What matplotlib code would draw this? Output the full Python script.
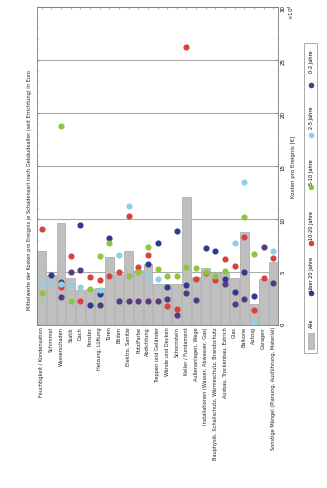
import numpy as np
import matplotlib
matplotlib.use("Agg")
import matplotlib.pyplot as plt
from matplotlib.patches import Rectangle
from matplotlib.lines import Line2D
from matplotlib.ticker import MultipleLocator

# categories (original chart is a horizontal bar chart, shown rotated by 90 degrees)
categories = [
    "Feuchtigkeit / Kondensation", "Schimmel", "Wasserschaden", "Statik", "Dach",
    "Fenster", "Heizung, Lüftung", "Türen", "Böden", "Elektro, Sanitär",
    "Putz/Farbe", "Abdichtung", "Treppen und Geländer", "Wände und Decken",
    "Schornstein", "Keller / Fundament", "Außenanlagen, Wege",
    "Installationen (Wasser, Abwasser, Gas)", "Bauphysik, Schallschutz, Wärmeschutz, Brandschutz",
    "Ausbau, Trockenbau, Estrich", "Glas", "Balkone", "Aufzug", "Garagen",
    "Sonstige Mängel (Planung, Ausführung, Material)",
]

# mean cost per event, all buildings (x 10^4)
alle = [7.0, 4.75, 9.6, 4.4, 3.3, 3.4, 3.5, 6.4, 4.8, 7.0, 5.2, 5.8, 3.9, 3.9,
        3.9, 12.1, 4.5, 5.4, 5.0, 5.0, 4.4, 8.75, 2.0, 4.3, 5.9]

nan = np.nan
ueber20 = [nan, 4.7, 4.1, nan, 9.4, 1.9, 2.9, 8.25, nan, nan, nan, 5.8, 7.7, 3.6,
           8.9, 3.8, nan, 7.3, 7.0, 4.3, 3.1, 5.0, 2.7, nan, nan]
j10_20 = [9.1, nan, 3.6, 6.5, 2.3, 4.5, 4.2, 4.6, 5.0, 10.3, 5.5, 6.6, nan, 1.8,
          1.55, 26.2, 4.3, 4.9, 4.2, 6.2, 5.6, 8.3, 1.4, 4.4, 6.3]
j5_10 = [3.0, nan, 18.8, 2.3, nan, 3.4, 6.5, 7.7, nan, 4.6, 5.0, 7.4, 5.3, 4.6,
         4.6, 5.5, 5.4, 5.0, 4.6, 5.1, nan, 10.2, 6.7, nan, nan]
j2_5 = [4.0, 4.0, 3.9, 3.8, 3.6, nan, 3.3, nan, 6.6, 11.25, nan, 4.6, 4.3, nan,
        nan, nan, nan, nan, nan, nan, 7.7, 13.5, 0.3, nan, 7.0]
j0_2 = [nan, nan, 2.6, 5.0, 5.2, nan, 1.9, nan, 2.3, 2.3, 2.3, 2.3, 2.3, 2.5,
        0.9, 3.0, 2.4, nan, nan, 3.9, 2.0, 2.5, nan, 7.4, 4.0]

series = [
    ("über 20 Jahre", ueber20, "#2e3a8c"),
    ("10-20 Jahre", j10_20, "#d9403b"),
    ("5-10 Jahre", j5_10, "#8cc63e"),
    ("2-5 Jahre", j2_5, "#8fd0e4"),
    ("0-2 Jahre", j0_2, "#553a80"),
]

W, H = 327, 488
fig = plt.figure(figsize=(W / 100, H / 100), dpi=100)
ax = fig.add_axes([37 / W, 1 - 325 / H, (278 - 37) / W, (325 - 7) / H])

x = np.arange(len(categories))
ax.bar(x, alle, width=0.9, color="#bfbfbf", edgecolor="#999999", linewidth=0.4, zorder=2)
for name, vals, col in series:
    ax.plot(x, vals, "o", ms=3.4, color=col, mec=col, zorder=3)

ax.set_xlim(-0.5, len(categories) - 0.5)
ax.set_ylim(0, 30)
ax.yaxis.set_major_locator(MultipleLocator(5))
ax.yaxis.set_minor_locator(MultipleLocator(1))
ax.yaxis.grid(True, color="#adadad", linewidth=0.8, zorder=0)
ax.set_axisbelow(True)
ax.yaxis.tick_right()
ax.tick_params(axis="y", which="both", left=True, right=True, direction="in",
               labelsize=4, labelrotation=90, length=2, width=0.4, color="#777777", pad=2)
ax.tick_params(axis="y", which="minor", length=1)
ax.set_xticks(x)
ax.set_xticklabels(categories, rotation=90, fontsize=3.6, color="#222222")
ax.tick_params(axis="x", top=True, bottom=True, direction="in", length=1.5,
               width=0.4, color="#777777", pad=1.5)
for s in ax.spines.values():
    s.set_color("#7a7a7a")
    s.set_linewidth(0.6)

def fx(px):
    return px / W

def fy(py):
    return 1 - py / H

fig.text(fx(30), fy(190), "Mittelwerte der Kosten pro Ereignis je Schadensart nach Gebäudealter (seit Errichtung) in Euro",
         rotation=90, ha="center", va="center", fontsize=3.6, color="#222222")
fig.text(fx(293), fy(167), "Kosten pro Ereignis [€]", rotation=90, ha="center", va="center",
         fontsize=4, color="#222222")
fig.text(fx(291), fy(12), "×10$^{4}$", rotation=90, ha="center", va="center",
         fontsize=4, color="#222222")

# legend (drawn by hand because the whole chart is rotated)
fig.patches.append(Rectangle((fx(304), fy(353)), (317 - 304) / W, (353 - 43) / H,
                             transform=fig.transFigure, facecolor="white",
                             edgecolor="#8a8a8a", linewidth=0.5))
fig.patches.append(Rectangle((fx(307.5), fy(349)), 6 / W, 16 / H,
                             transform=fig.transFigure, facecolor="#bfbfbf",
                             edgecolor="#999999", linewidth=0.4))
fig.text(fx(311), fy(323), "Alle", rotation=90, ha="center", va="center", fontsize=3.6)
leg_pos = [(293, 274), (243, 226), (187, 172), (135, 118), (85, 62)]
for (name, vals, col), (mpy, tpy) in zip(series, leg_pos):
    fig.add_artist(Line2D([fx(311)], [fy(mpy)], marker="o", ms=3.0, color=col,
                          mec=col, transform=fig.transFigure))
    fig.text(fx(311), fy(tpy), name, rotation=90, ha="center", va="center", fontsize=3.6)

fig.savefig("out.png", dpi=100, facecolor="white")
